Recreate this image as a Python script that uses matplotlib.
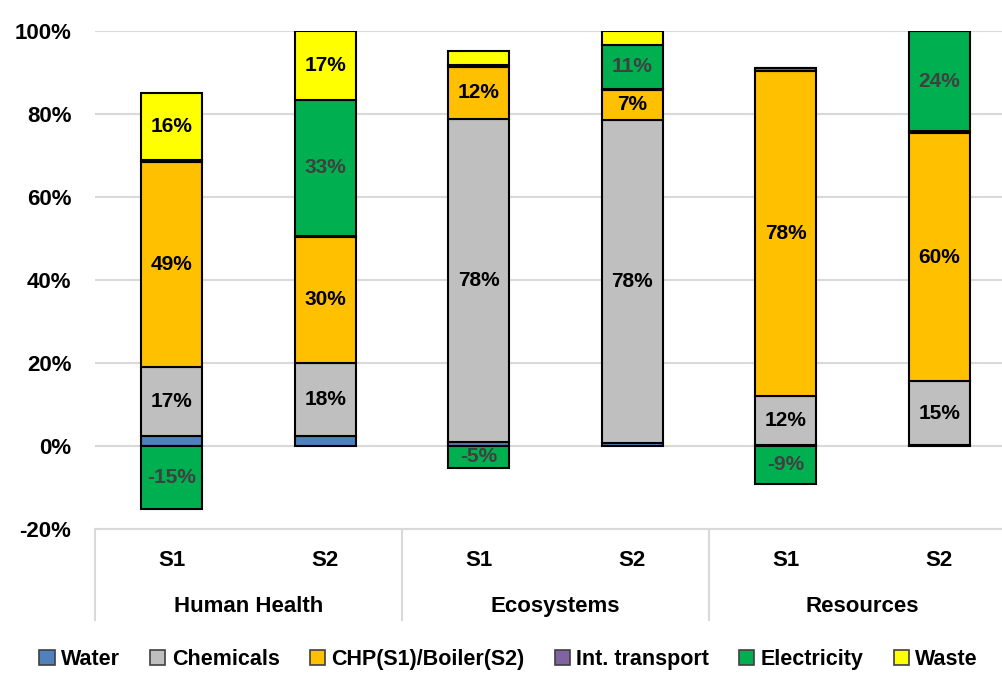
import numpy as np
import matplotlib
matplotlib.use("Agg")
import matplotlib.pyplot as plt
from matplotlib.patches import Patch

plt.rcParams['font.family'] = ['Liberation Sans', 'DejaVu Sans']
plt.rcParams['font.weight'] = 'bold'

# data (shares in %)
groups = ["Human Health", "Ecosystems", "Resources"]
scenarios = ["S1", "S2", "S1", "S2", "S1", "S2"]
water = [2.3, 2.4, 0.9, 0.8, 0.3, 0.3]
chemicals = [16.8, 17.6, 78.0, 77.8, 11.8, 15.3]
chp = [49.4, 30.4, 12.4, 7.2, 78.3, 59.8]
transport = [0.5, 0.3, 0.4, 0.3, 0.6, 0.5]
electricity = [-15.2, 32.6, -5.2, 10.6, -9.1, 24.1]
waste = [16.1, 16.7, 3.6, 3.3, 0.0, 0.0]

series = [
    ("Water", water, "#4F81BD", "black"),
    ("Chemicals", chemicals, "#BFBFBF", "black"),
    ("CHP(S1)/Boiler(S2)", chp, "#FFC000", "black"),
    ("Int. transport", transport, "#8064A2", "black"),
    ("Electricity", electricity, "#00B050", "#404040"),
    ("Waste", waste, "#FFFF00", "black"),
]

fig = plt.figure(figsize=(10.03, 6.73), dpi=100)
ax = fig.add_axes([95 / 1003, 144 / 673, 921 / 1003, 498 / 673])

x = np.arange(len(scenarios))
width = 0.4
pos_base = np.zeros(len(x))
neg_base = np.zeros(len(x))
for name, vals, color, tcolor in series:
    vals = np.array(vals, dtype=float)
    bottoms = np.where(vals >= 0, pos_base, neg_base)
    ax.bar(x, vals, width, bottom=bottoms, color=color, edgecolor="black",
           linewidth=1.5, zorder=3)
    for xi, b, v in zip(x, bottoms, vals):
        if abs(v) >= 5:
            ax.text(xi, b + v / 2, f"{v:.0f}%", ha="center", va="center",
                    fontsize=15, fontweight="bold", color=tcolor, zorder=4)
    pos_base = np.where(vals >= 0, pos_base + vals, pos_base)
    neg_base = np.where(vals < 0, neg_base + vals, neg_base)

ax.set_xlim(-0.5, 5.5)
ax.set_ylim(-20, 100)
ax.set_yticks(np.arange(-20, 101, 20))
ax.set_yticklabels([f"{v}%" for v in range(-20, 101, 20)], fontsize=16, fontweight="bold")
ax.tick_params(axis="y", length=0, pad=17)
ax.set_xticks([])
ax.yaxis.grid(True, color="#D9D9D9", linewidth=1.5, zorder=0)
for s in ["left", "right", "top"]:
    ax.spines[s].set_visible(False)
ax.spines["bottom"].set_color("#D9D9D9")
ax.spines["bottom"].set_linewidth(1.5)

# multi-level category axis
trans = ax.get_xaxis_transform()
for xi, lab in zip(x, scenarios):
    ax.text(xi, -0.063, lab, transform=trans, ha="center", va="center",
            fontsize=16, fontweight="bold")
for gi, g in enumerate(groups):
    ax.text(gi * 2 + 0.5, -0.155, g, transform=trans, ha="center", va="center",
            fontsize=16, fontweight="bold")
for sep in [-0.5, 1.5, 3.5]:
    ax.plot([sep, sep], [0, -0.183], transform=trans, color="#D9D9D9",
            linewidth=1.5, clip_on=False)

handles = [Patch(facecolor=c, edgecolor="#404040", linewidth=1.2, label=n)
           for n, _, c, _ in series]
fig.legend(handles=handles, loc="lower left", bbox_to_anchor=(0.02, -0.025),
           ncol=6, frameon=False, handlelength=0.7, handleheight=0.7,
           handletextpad=0.3, columnspacing=1.4, prop={"weight": "bold", "size": 15.5})

fig.savefig("out.png", dpi=100)
